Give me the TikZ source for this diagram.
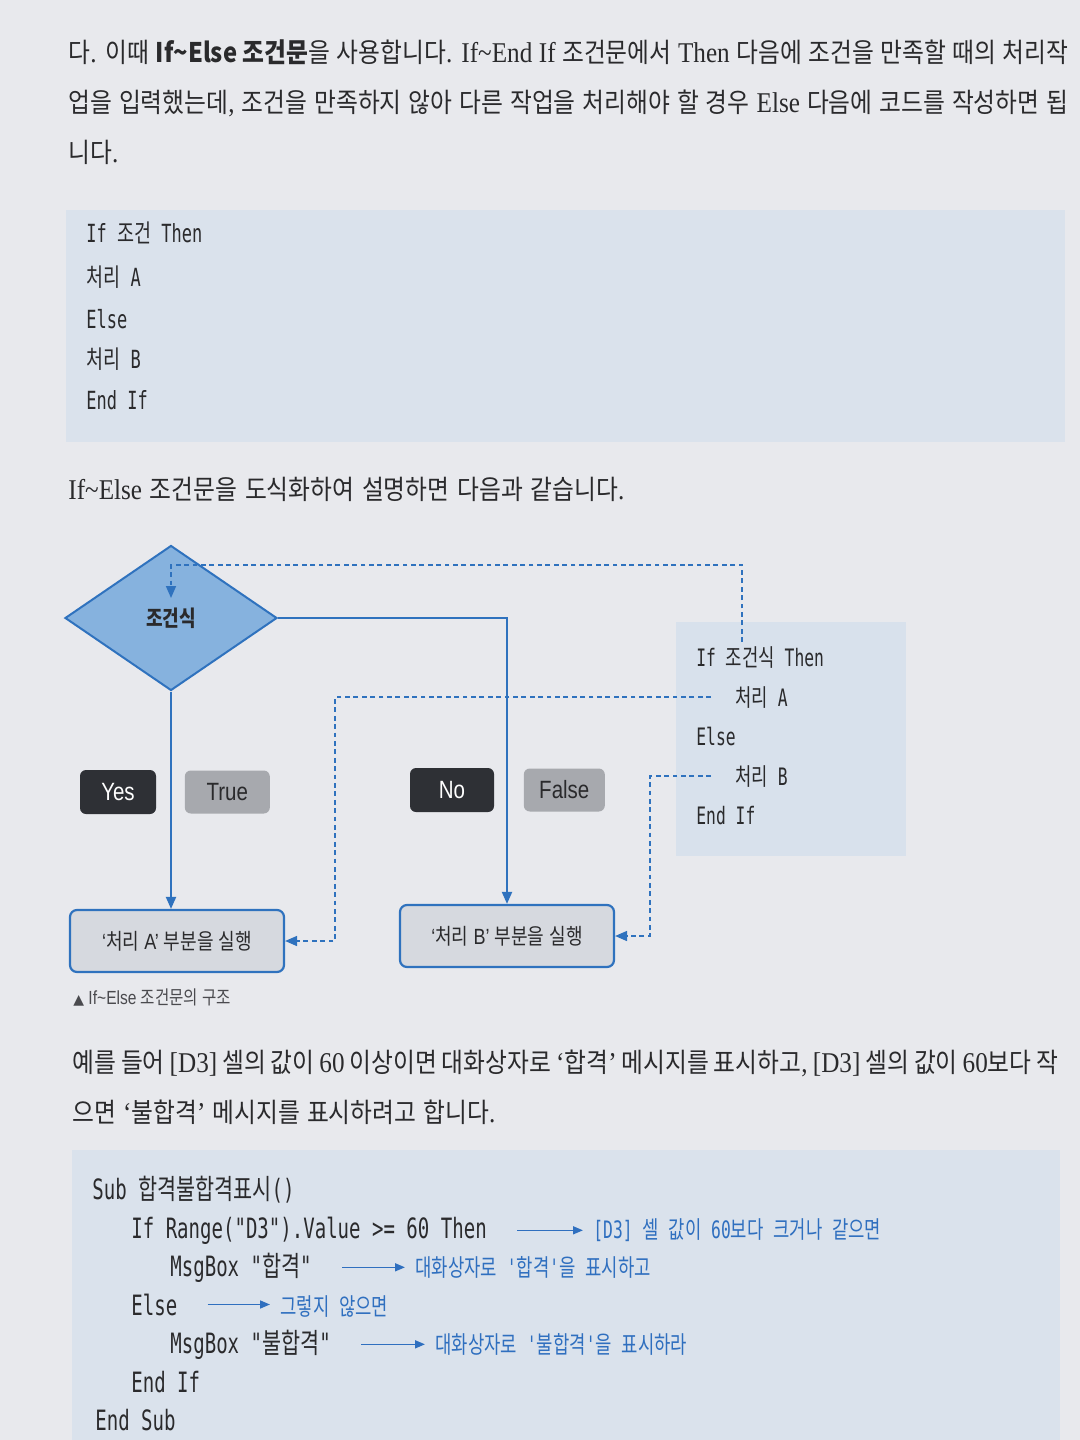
\documentclass[tikz,border=0pt]{standalone}
\usepackage{fontspec}
\usetikzlibrary{shapes.geometric, arrows.meta, positioning}

\newfontfamily\krbody[FakeStretch=0.88]{Noto Sans CJK KR}
\newfontfamily\serbody[FakeStretch=0.88, Scale=1.06]{Liberation Serif}
\newfontfamily\krcode[FakeStretch=0.74]{Noto Sans CJK KR}
\newfontfamily\latcode[FakeStretch=0.68]{DejaVu Sans Mono}
\newfontfamily\krdiag[FakeStretch=0.82]{Noto Sans CJK KR}
\newfontfamily\latdiag[FakeStretch=0.82]{Liberation Sans}
\newfontfamily\symfont{DejaVu Sans}

% Hangul syllables pick their own font
\count255="AC00
\loop
  \XeTeXcharclass\count255=7
  \advance\count255 by 1
\ifnum\count255<"D7A4 \repeat
\XeTeXinterchartoks 0 7 = {\curkr}
\XeTeXinterchartoks 1 7 = {\curkr}
\XeTeXinterchartoks 2 7 = {\curkr}
\XeTeXinterchartoks 3 7 = {\curkr}
\XeTeXinterchartoks 4095 7 = {\curkr}
\XeTeXinterchartoks 7 0 = {\curlat}
\XeTeXinterchartoks 7 1 = {\curlat}
\XeTeXinterchartoks 7 2 = {\curlat}
\XeTeXinterchartoks 7 3 = {\curlat}
\XeTeXinterchartoks 7 4095 = {\curlat}
\def\curkr{\krbody}
\def\curlat{\serbody}

\newcommand\setbody{\fontsize{13.5}{16}\selectfont\def\curkr{\krbody}\def\curlat{\serbody}\curlat}
\newcommand\setcode[1]{\fontsize{#1}{#1}\selectfont\def\curkr{\krcode}\def\curlat{\latcode}\curlat}
\newcommand\setdiag[1]{\fontsize{#1}{#1}\selectfont\def\curkr{\krdiag}\def\curlat{\latdiag}\curlat}

\definecolor{pagebg}{HTML}{E8E9ED}
\definecolor{codeblue}{HTML}{DAE2EC}
\definecolor{panelblue}{HTML}{D8E1EC}
\definecolor{diamondblue}{HTML}{86B2DE}
\definecolor{lineblue}{HTML}{2F72BE}
\definecolor{boxgrey}{HTML}{D6D9DF}
\definecolor{darktag}{HTML}{2E3035}
\definecolor{lighttag}{HTML}{A7A9AE}
\definecolor{ink}{HTML}{2A2A2C}
\definecolor{capink}{HTML}{4A4A4E}
\definecolor{noteblue}{HTML}{2F6FBF}

\tikzset{
    bodyline/.style={anchor=base west, inner sep=0pt, text=ink, font=\setbody},
    codeline/.style={anchor=base west, inner sep=0pt, text=ink, font={\setcode{#1}}},
    noteline/.style={anchor=base west, inner sep=0pt, text=noteblue, font={\setcode{12}}},
    decision/.style={diamond, draw=lineblue, fill=diamondblue, line width=1pt, minimum width=106pt, minimum height=72.5pt, inner sep=0pt, text=ink, font={\bfseries\setdiag{11}}},
    process/.style={rectangle, rounded corners=3.5pt, draw=lineblue, fill=boxgrey, line width=1.1pt, minimum width=107pt, minimum height=31pt, text=ink, font={\setdiag{11}}},
    tagdark/.style={rectangle, rounded corners=3pt, fill=darktag, text=white, minimum height=22pt, font={\setdiag{12.5}}},
    taglight/.style={rectangle, rounded corners=3pt, fill=lighttag, text=ink, minimum height=21.5pt, font={\setdiag{12.5}}},
    flow/.style={draw=lineblue, line width=1pt, -{Triangle[length=6pt,width=5pt]}},
    dflow/.style={flow, line width=0.8pt, dash pattern=on 2.4pt off 1.8pt},
    note/.style={draw=noteblue, line width=0.8pt, -{Triangle[length=5pt,width=4pt]}, shorten <=15pt, shorten >=5pt}
}

\begin{document}
\begin{tikzpicture}[x=0.5pt, y=-0.5pt]
    \XeTeXinterchartokenstate=1
    \useasboundingbox (0,0) rectangle (1080,1440);
    \fill[pagebg] (0,0) rectangle (1080,1440);

    \node[bodyline] (p1) at (68,62) {\makebox[500pt][s]{다. 이때 {\bfseries\def\curlat{\krbody}\krbody If\textasciitilde Else 조건문}\curkr 을 사용합니다. If\textasciitilde End If 조건문에서 Then 다음에 조건을 만족할 때의 처리작}};
    \node[bodyline] (p2) at (68,112) {\makebox[500pt][s]{업을 입력했는데, 조건을 만족하지 않아 다른 작업을 처리해야 할 경우 Else 다음에 코드를 작성하면 됩}};
    \node[bodyline] (p3) at (68,162) {니다.};

    \fill[codeblue] (66,210) rectangle (1065,442);
    \node[codeline=12.5] (sIf) at (86,242) {If 조건 Then};
    \node[codeline=12.5] (sA) at (86,286) {처리 A};
    \node[codeline=12.5] (sElse) at (86,328) {Else};
    \node[codeline=12.5] (sB) at (86,368) {처리 B};
    \node[codeline=12.5] (sEnd) at (86,409) {End If};

    \node[bodyline] (lead) at (68,499) {\makebox[278pt][s]{If\textasciitilde Else 조건문을 도식화하여 설명하면 다음과 같습니다.}};

    \node[decision] (cond) at (171,618) {조건식};
    \node[process] (runA) at (177,941) {‘처리 A’ 부분을 실행};
    \node[process] (runB) at (507,936) {‘처리 B’ 부분을 실행};

    \node[tagdark, minimum width=38pt] (yes) at (118,792) {Yes};
    \node[taglight, minimum width=42.5pt, right=14pt of yes] (true) {True};
    \node[tagdark, minimum width=42pt] (no) at (452,790) {No};
    \node[taglight, minimum width=40.5pt, right=14.5pt of no] (false) {False};

    \fill[panelblue] (676,622) rectangle (906,856);
    \node[codeline=12] (kIf) at (696,666) {If 조건식 Then};
    \node[codeline=12] (kA) at (735,706) {처리 A};
    \node[codeline=12] (kElse) at (696,745) {Else};
    \node[codeline=12] (kB) at (735,785) {처리 B};
    \node[codeline=12] (kEnd) at (696,824) {End If};

    \coordinate (ifTop) at (742,642);
    \coordinate (loopTurn) at (171,565);
    \coordinate (loopEnd) at (171,598);
    \coordinate (turnA) at (335,941);
    \coordinate (turnB) at (650,936);

    \draw[dflow] (ifTop) |- (loopTurn) -- (loopEnd);
    \draw[flow] (cond.east) -| (runB.north);
    \draw[flow] (cond.south) -- (cond.south |- runA.north);
    \draw[dflow] ([xshift=-12pt]kA.west) -| (turnA) -- (runA.east);
    \draw[dflow] ([xshift=-12pt]kB.west) -| (turnB) -- (runB.east);

    \node[anchor=base west, inner sep=0pt, text=capink, font={\setdiag{9.5}}] (cap) at (73,1004) {{\symfont\fontsize{7}{7}\selectfont ▲} If\textasciitilde Else 조건문의 구조};

    \node[bodyline] (q1) at (72,1072) {\makebox[493pt][s]{예를 들어 [D3] 셀의 값이 60 이상이면 대화상자로 ‘합격’ 메시지를 표시하고, [D3] 셀의 값이 60보다 작}};
    \node[bodyline] (q2) at (72,1122) {\makebox[211.5pt][s]{으면 ‘불합격’ 메시지를 표시하려고 합니다.}};

    \fill[codeblue] (72,1150) rectangle (1060,1440);
    \node[codeline=14] (sub) at (92,1199) {Sub 합격불합격표시()};
    \node[codeline=14] (rng) at (131,1238) {If Range("D3").Value >= 60 Then};
    \node[codeline=14] (pass) at (170,1276) {MsgBox "합격"};
    \node[codeline=14] (els) at (131,1315) {Else};
    \node[codeline=14] (fail) at (170,1353) {MsgBox "불합격"};
    \node[codeline=14] (endif) at (131,1392) {End If};
    \node[codeline=14] (endsub) at (95,1430) {End Sub};

    \node[noteline] (nRng) at (593,1238) {[D3] 셀 값이 60보다 크거나 같으면};
    \node[noteline] (nPass) at (415,1276) {대화상자로 '합격'을 표시하고};
    \node[noteline] (nEls) at (280,1315) {그렇지 않으면};
    \node[noteline] (nFail) at (435,1353) {대화상자로 '불합격'을 표시하라};

    \draw[note] (rng.east) -- (rng.east -| nRng.west);
    \draw[note] (pass.east) -- (pass.east -| nPass.west);
    \draw[note] (els.east) -- (els.east -| nEls.west);
    \draw[note] (fail.east) -- (fail.east -| nFail.west);
\end{tikzpicture}
\end{document}
